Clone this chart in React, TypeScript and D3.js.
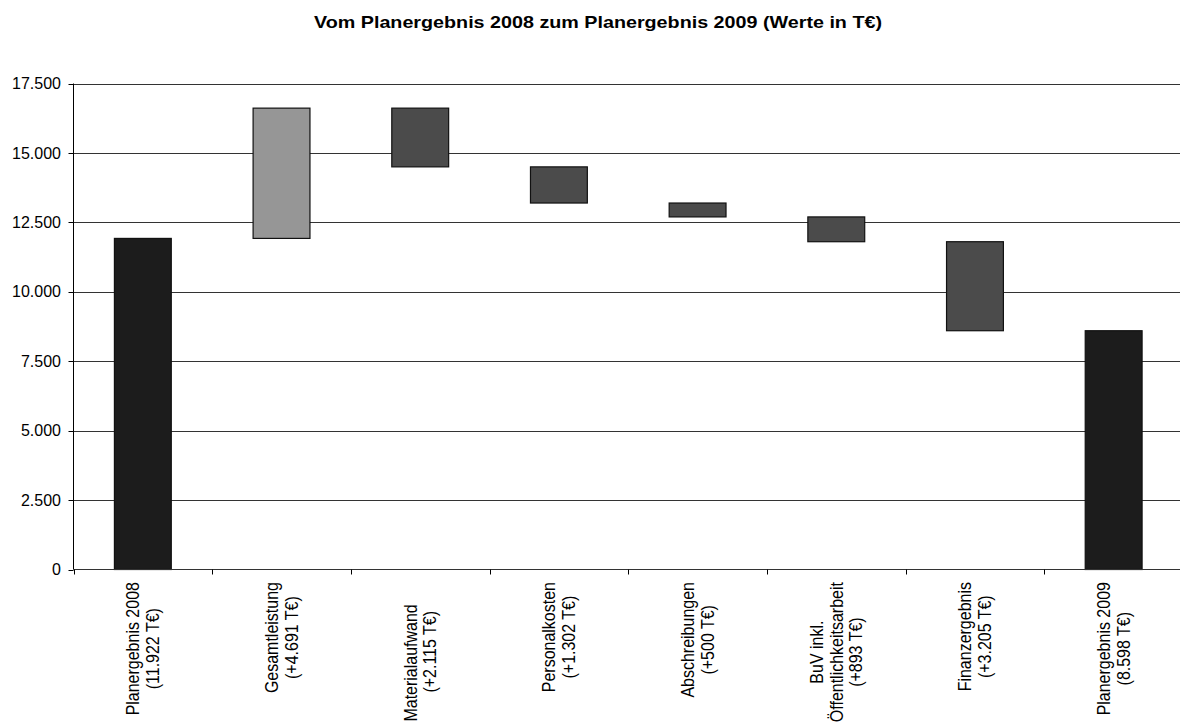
import React from "react";
import * as d3 from "d3";

const title = "Vom Planergebnis 2008 zum Planergebnis 2009 (Werte in T€)";
const categoryLabels: string[][] = [
  ["Planergebnis 2008", "(11.922 T€)"],
  ["Gesamtleistung", "(+4.691 T€)"],
  ["Materialaufwand     ", "(+2.115 T€)"],
  ["Personalkosten", "(+1.302 T€)"],
  ["Abschreibungen", "(+500 T€)"],
  ["BuV inkl.", "Öffentlichkeitsarbeit", "(+893 T€)"],
  ["Finanzergebnis", "(+3.205 T€)"],
  ["Planergebnis 2009", "(8.598 T€)"],
];
const startValue = 11922;
const endValue = 8598;
const deltas = [4691, -2115, -1302, -500, -893, -3205];
const yTicks = [0, 2500, 5000, 7500, 10000, 12500, 15000, 17500];

const W = 1180;
const H = 727;
const left = 73.5;
const right = 1183;
const top = 83.5;
const bottom = 569.5;
const FONT = "'Liberation Sans', Arial, sans-serif";

let ctx: CanvasRenderingContext2D | null = null;
function measure(t: string, size: number) {
  if (!ctx) ctx = document.createElement("canvas").getContext("2d");
  if (!ctx) return t.length * size * 0.55;
  ctx.font = `${size}px 'Liberation Sans', Arial, sans-serif`;
  return ctx.measureText(t).width;
}

export default function App() {
  type Bar = { i: number; y0: number; y1: number; kind: string };
  const bars: Bar[] = [];
  bars.push({ i: 0, y0: 0, y1: startValue, kind: "total" });
  let cur = startValue;
  deltas.forEach((d, k) => {
    const next = cur + d;
    bars.push({ i: k + 1, y0: cur, y1: next, kind: d > 0 ? "up" : "down" });
    cur = next;
  });
  bars.push({ i: bars.length, y0: 0, y1: endValue, kind: "total" });

  const x = d3
    .scaleBand<number>()
    .domain(d3.range(categoryLabels.length))
    .range([left, right])
    .paddingInner(0.59)
    .paddingOuter(0.295);
  const step = (right - left) / categoryLabels.length;
  const y = d3.scaleLinear().domain([0, 17500]).range([bottom, top]);
  const tickFmt = (v: number) => {
    if (v === 0) return "0";
    const th = Math.floor(v / 1000);
    const rest = String(v % 1000).padStart(3, "0");
    return `${th}.${rest}`;
  };
  const colors: Record<string, string> = {
    total: "#1c1c1c",
    up: "#969696",
    down: "#4b4b4b",
  };
  const fs = 16;
  const sx = 1.12;
  const lh = 19.5 / sx;
  const labelTop = 582;

  return (
    <div style={{ position: "absolute", left: 0, top: 0 }}>
      <svg width={W} height={H} style={{ display: "block", fontFamily: FONT }}>
        <rect width={W} height={H} fill="#fff" />
        <text
          transform="translate(598,28) scale(1.16,1)"
          textAnchor="middle"
          fontSize={17}
          fontWeight="bold"
          fill="#000"
        >
          {title}
        </text>
        {yTicks.map((t) => (
          <g key={t}>
            {t > 0 && (
              <line
                x1={left}
                x2={right}
                y1={Math.round(y(t)) + 0.5}
                y2={Math.round(y(t)) + 0.5}
                stroke="#333"
                strokeWidth={1}
              />
            )}
            <line
              x1={left - 5}
              x2={left}
              y1={Math.round(y(t)) + 0.5}
              y2={Math.round(y(t)) + 0.5}
              stroke="#000"
            />
            <text
              x={61}
              y={y(t)}
              dy="0.35em"
              textAnchor="end"
              fontSize={fs}
              fill="#000"
            >
              {tickFmt(t)}
            </text>
          </g>
        ))}
        {bars.map((b) => {
          const yt = y(Math.max(b.y0, b.y1));
          const yb = y(Math.min(b.y0, b.y1));
          return (
            <rect
              key={b.i}
              x={x(b.i)!}
              y={yt}
              width={x.bandwidth()}
              height={yb - yt}
              fill={colors[b.kind]}
              stroke="#111"
              strokeWidth={1.2}
            />
          );
        })}
        <line x1={left} x2={left} y1={top} y2={bottom} stroke="#000" />
        <line x1={left} x2={right} y1={bottom} y2={bottom} stroke="#333" strokeWidth={1.2} />
        {d3.range(categoryLabels.length + 1).map((k) => (
          <line
            key={k}
            x1={Math.round(left + k * step) + 0.5}
            x2={Math.round(left + k * step) + 0.5}
            y1={bottom}
            y2={bottom + 5}
            stroke="#000"
          />
        ))}
        {categoryLabels.map((lines, i) => {
          const cx = (x(i) ?? 0) + x.bandwidth() / 2;
          const maxW = d3.max(lines, (l) => measure(l, fs)) ?? 0;
          const n = lines.length;
          return (
            <g
              key={i}
              transform={`translate(${cx},${labelTop}) scale(${sx},1) rotate(-90)`}
            >
              {lines.map((l, j) => (
                <text
                  key={j}
                  x={-maxW / 2}
                  y={(j - (n - 1) / 2) * lh}
                  dy="0.35em"
                  textAnchor="middle"
                  fontSize={fs}
                  fill="#000"
                  style={{ whiteSpace: "pre" }}
                >
                  {l}
                </text>
              ))}
            </g>
          );
        })}
      </svg>
    </div>
  );
}
